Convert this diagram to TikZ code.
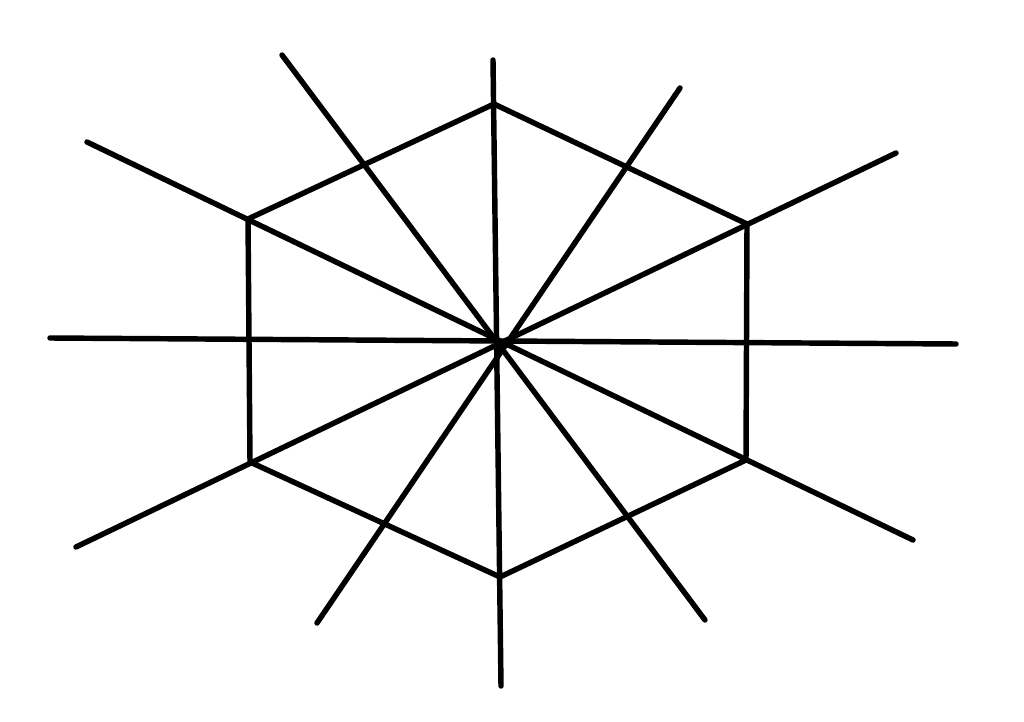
\documentclass[tikz,border=0pt]{standalone}
\begin{document}
\begin{tikzpicture}[x=0.02cm,y=-0.02cm,
  stroke/.style={line width=3.1pt,black,line cap=round,line join=round}]
\useasboundingbox (0,0) rectangle (1024,722);
% hexagon vertices
\coordinate (h1) at (494,104);
\coordinate (h2) at (747,224);
\coordinate (h3) at (746,460);
\coordinate (h4) at (500,577);
\coordinate (h5) at (250,462);
\coordinate (h6) at (248,219);
% spoke end points
\coordinate (vt) at (493,60);
\coordinate (vb) at (501,686);
\coordinate (hl) at (50,338);
\coordinate (hr) at (956,344);
\coordinate (a1) at (87,142);
\coordinate (a2) at (913,540);
\coordinate (b1) at (896,153);
\coordinate (b2) at (76,547);
\coordinate (c1) at (282,55);
\coordinate (c2) at (705,620);
\coordinate (d1) at (680,88);
\coordinate (d2) at (317,623);
\draw[stroke] (h1) -- (h2) -- (h3) -- (h4) -- (h5) -- (h6) -- cycle;
\draw[stroke] (vt) -- (vb);
\draw[stroke] (hl) -- (hr);
\draw[stroke] (a1) -- (a2);
\draw[stroke] (b1) -- (b2);
\draw[stroke] (c1) -- (c2);
\draw[stroke] (d1) -- (d2);
\end{tikzpicture}
\end{document}
